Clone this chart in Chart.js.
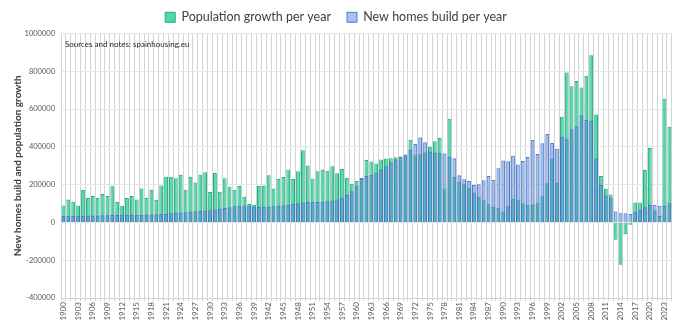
<!DOCTYPE html>
<html>
<head>
<meta charset="utf-8">
<script src="https://cdn.jsdelivr.net/npm/chart.js@4.4.1/dist/chart.umd.min.js"></script>
<style>
html, body { margin: 0; padding: 0; background: #fff; }
</style>
</head>
<body>
<canvas id="grafica" width="680" height="326"></canvas>
<script>
// categories: one bar pair per year, 1900 - 2024
const years = [];
for (let y = 1900; y <= 2024; y++) years.push(String(y));

// population growth per year
const popGrowth = [
    90000, 122000, 110000, 90000, 172000, 129000, 140000, 129000, 150000, 140000,
    191000, 108000, 88000, 129000, 140000, 122000, 180000, 129000, 172000, 120000,
    196000, 242000, 242000, 234000, 253000, 173000, 242000, 212000, 253000, 265000,
    161000, 262000, 163000, 234000, 189000, 173000, 193000, 136000, 97000, 94000,
    193000, 196000, 250000, 180000, 230000, 241000, 280000, 230000, 271000, 382000,
    301000, 232000, 271000, 280000, 274000, 297000, 260000, 283000, 235000, 205000,
    219000, 230000, 331000, 322000, 312000, 333000, 338000, 340000, 345000, 349000,
    356000, 437000, 356000, 361000, 370000, 400000, 430000, 447000, 180000, 549000,
    240000, 214000, 202000, 184000, 158000, 136000, 117000, 96000, 83000, 78000,
    58000, 88000, 125000, 120000, 102000, 92000, 92000, 102000, 138000, 207000,
    337000, 210000, 560000, 793000, 721000, 749000, 714000, 776000, 885000, 571000,
    246000, 178000, 148000, -92000, -224000, -62000, -12000, 106000, 106000, 277000,
    394000, 64000, 34000, 654000, 507000
];

// new homes built per year
const homesBuilt = [
    34000, 35000, 35000, 36000, 36000, 37000, 37000, 37000, 38000, 38000,
    39000, 39000, 40000, 40000, 40000, 41000, 41000, 42000, 42000, 43000,
    44000, 46000, 48000, 50000, 52000, 54000, 56000, 58000, 60000, 62000,
    64000, 68000, 72000, 76000, 80000, 85000, 88000, 88000, 86000, 84000,
    82000, 82000, 84000, 86000, 88000, 90000, 94000, 98000, 102000, 106000,
    108000, 108000, 108000, 110000, 112000, 116000, 122000, 130000, 145000, 165000,
    195000, 235000, 246000, 253000, 264000, 281000, 297000, 317000, 335000, 347000,
    360000, 386000, 415000, 449000, 424000, 375000, 370000, 368000, 365000, 347000,
    340000, 250000, 228000, 219000, 198000, 202000, 223000, 246000, 225000, 287000,
    328000, 324000, 353000, 306000, 325000, 346000, 436000, 362000, 419000, 468000,
    420000, 390000, 454000, 440000, 493000, 509000, 567000, 542000, 537000, 339000,
    198000, 143000, 131000, 58000, 49000, 48000, 44000, 57000, 67000, 80000,
    92000, 94000, 88000, 87000, 101000
];

// y axis ticks
const yMin = -400000;
const yMax = 1000000;
const yStep = 200000;

const fuente = 'Lato, "Open Sans", sans-serif';

// texto de fuentes arriba a la izquierda del area
const notaFuente = {
    id: 'notaFuente',
    afterDraw(chart) {
        const ctx = chart.ctx;
        const area = chart.chartArea;
        ctx.save();
        ctx.font = '8px ' + fuente;
        ctx.fillStyle = '#262626';
        ctx.textBaseline = 'middle';
        ctx.fillText('Sources and notes: spainhousing.eu', area.left + 4, area.top + 11);
        ctx.restore();
    }
};

const ctx = document.getElementById('grafica').getContext('2d');
new Chart(ctx, {
    type: 'bar',
    data: {
        labels: years,
        datasets: [
            {
                label: 'New homes build per year',
                data: homesBuilt,
                backgroundColor: 'rgba(75, 135, 220, 0.5)',
                borderColor: 'rgba(70, 115, 205, 0.95)',
                borderWidth: 1,
                grouped: false,
                barPercentage: 0.78,
                categoryPercentage: 1
            },
            {
                label: 'Population growth per year',
                data: popGrowth,
                backgroundColor: 'rgba(80, 214, 170, 1)',
                borderColor: 'rgba(30, 175, 125, 1)',
                borderWidth: 1,
                grouped: false,
                barPercentage: 0.78,
                categoryPercentage: 1
            }
        ]
    },
    options: {
        responsive: false,
        animation: false,
        layout: { padding: { top: -5, right: 8, left: 0, bottom: 0 } },
        plugins: {
            legend: {
                position: 'top',
                labels: {
                    font: { family: fuente, size: 12.5 },
                    color: '#404040',
                    boxWidth: 10,
                    boxHeight: 10,
                    padding: 16,
                    sort: (a, b) => b.datasetIndex - a.datasetIndex
                }
            },
            tooltip: { enabled: false }
        },
        scales: {
            x: {
                grid: { color: '#d4d4d4', lineWidth: 1, offset: true, tickLength: 3 },
                border: { color: '#d4d4d4' },
                ticks: {
                    autoSkip: false,
                    maxRotation: 90,
                    minRotation: 90,
                    padding: 1,
                    font: { family: fuente, size: 8 },
                    color: '#595959',
                    callback: function (value, index) {
                        return index % 3 === 0 ? years[index] : '';
                    }
                },
                afterFit: function (scale) { scale.height = 28; }
            },
            y: {
                min: yMin,
                max: yMax,
                grid: { color: '#e6e6e6', drawTicks: false },
                border: { display: false },
                ticks: {
                    stepSize: yStep,
                    padding: 6,
                    font: { family: fuente, size: 7.5 },
                    color: '#595959',
                    callback: function (value) { return String(value); }
                },
                title: {
                    display: true,
                    text: 'New homes build and population growth',
                    font: { family: fuente, size: 10, weight: 'bold' },
                    color: '#404040',
                    padding: { top: 12, bottom: 0 }
                },
                afterFit: function (scale) { scale.width = 61; }
            }
        }
    },
    plugins: [notaFuente]
});
</script>
</body>
</html>
